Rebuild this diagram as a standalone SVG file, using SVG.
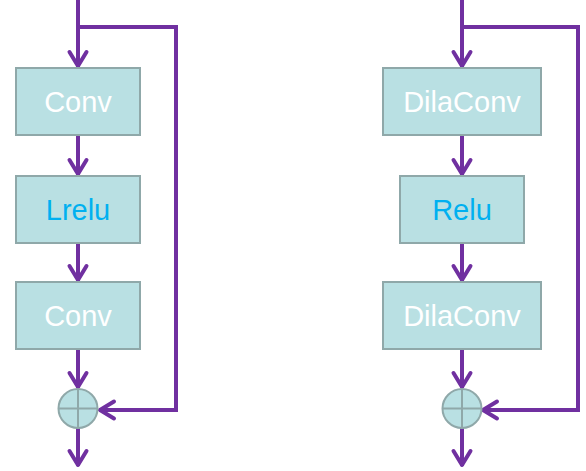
<svg xmlns="http://www.w3.org/2000/svg" width="586" height="471" viewBox="0 0 586 471">
<style>
.box{fill:#B9E0E3;stroke:#8FA8A9;stroke-width:2}
.lbl{font-family:"Liberation Sans",Arial,sans-serif;font-size:29px;text-anchor:middle;fill:#FFFFFF}
.act{fill:#00B0F0}
.ln{fill:none;stroke:#7030A0;stroke-width:4}
.x{stroke:#8FA8A9;stroke-width:2}
</style>
<defs>
<marker id="ah" markerUnits="userSpaceOnUse" markerWidth="20" markerHeight="20" refX="0" refY="0" orient="auto" overflow="visible">
<path d="M-15,-8.5 L-1,0 L-15,8.5" fill="none" stroke="#7030A0" stroke-width="4" stroke-linejoin="round" stroke-linecap="round"/>
</marker>
</defs>
<g id="connectors">
<line class="ln" x1="78" y1="0" x2="78" y2="67" marker-end="url(#ah)"/>
<polyline class="ln" points="78,27 176,27 176,410 99,410" marker-end="url(#ah)"/>
<line class="ln" x1="78" y1="135" x2="78" y2="175" marker-end="url(#ah)"/>
<line class="ln" x1="78" y1="243" x2="78" y2="281" marker-end="url(#ah)"/>
<line class="ln" x1="78" y1="349" x2="78" y2="388" marker-end="url(#ah)"/>
<line class="ln" x1="78" y1="428" x2="78" y2="466" marker-end="url(#ah)"/>
<line class="ln" x1="462" y1="0" x2="462" y2="67" marker-end="url(#ah)"/>
<polyline class="ln" points="462,27 578,27 578,410 482,410" marker-end="url(#ah)"/>
<line class="ln" x1="462" y1="135" x2="462" y2="175" marker-end="url(#ah)"/>
<line class="ln" x1="462" y1="243" x2="462" y2="281" marker-end="url(#ah)"/>
<line class="ln" x1="462" y1="349" x2="462" y2="388" marker-end="url(#ah)"/>
<line class="ln" x1="462" y1="428" x2="462" y2="466" marker-end="url(#ah)"/>
</g>
<g id="conv1"><rect class="box" x="16" y="68" width="124" height="67"/><text class="lbl" x="78" y="112">Conv</text></g>
<g id="lrelu"><rect class="box" x="16" y="176" width="124" height="67"/><text class="lbl act" x="78" y="220">Lrelu</text></g>
<g id="conv2"><rect class="box" x="16" y="282" width="124" height="67"/><text class="lbl" x="78" y="326">Conv</text></g>
<g id="add1"><circle class="box" cx="78" cy="408.5" r="19.5"/><line class="x" x1="58.5" y1="408.5" x2="97.5" y2="408.5"/><line class="x" x1="78" y1="389" x2="78" y2="428"/></g>
<g id="dilaconv1"><rect class="box" x="383" y="68" width="158" height="67"/><text class="lbl" x="462" y="112">DilaConv</text></g>
<g id="relu"><rect class="box" x="400" y="176" width="124" height="67"/><text class="lbl act" x="462" y="220">Relu</text></g>
<g id="dilaconv2"><rect class="box" x="383" y="282" width="158" height="67"/><text class="lbl" x="462" y="326">DilaConv</text></g>
<g id="add2"><circle class="box" cx="462" cy="408.5" r="19.5"/><line class="x" x1="442.5" y1="408.5" x2="481.5" y2="408.5"/><line class="x" x1="462" y1="389" x2="462" y2="428"/></g>
</svg>
